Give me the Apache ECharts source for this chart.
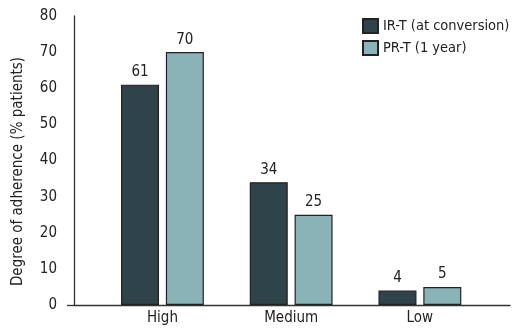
<!DOCTYPE html>
<html>
<head>
<meta charset="utf-8">
<style>
  html, body { margin: 0; padding: 0; background: #fff; }
  #chart { width: 512px; height: 328px; }
</style>
<script src="https://cdn.jsdelivr.net/npm/echarts@6/dist/echarts.min.js"></script>
</head>
<body>
<div id="chart"></div>
<script>
// Adherence levels and percentages of patients
const categories = ['High', 'Medium', 'Low'];
const seriesNames = ['IR-T (at conversion)', 'PR-T (1 year)'];
const irtValues = [61, 34, 4];
const prtValues = [70, 25, 5];
const yTicks = [0, 10, 20, 30, 40, 50, 60, 70, 80];

const FONT = '"Liberation Sans Narrow", "DejaVu Sans Condensed", "Roboto", sans-serif';
const INK = '#222';

// category index -> [x, y] pairs on a numeric x axis
const toPairs = vals => vals.map((v, i) => [i, v]);

const chart = echarts.init(document.getElementById('chart'), null, { renderer: 'canvas' });

const labelStyle = {
  show: true,
  position: 'top',
  distance: 5,
  color: INK,
  fontFamily: FONT,
  fontSize: 15,
  formatter: p => p.value[1]
};

chart.setOption({
  animation: false,
  textStyle: { fontFamily: FONT },
  grid: { left: 74, right: 2, top: 16, bottom: 23, containLabel: false },
  legend: {
    orient: 'vertical',
    left: 362,
    top: 18,
    padding: 0,
    width: 150,
    itemWidth: 15,
    itemHeight: 14,
    itemGap: 6,
    icon: 'rect',
    textStyle: { fontFamily: FONT, fontSize: 14.5, color: INK },
    data: seriesNames
  },
  xAxis: {
    type: 'value',
    min: -0.687,
    max: 2.7,
    axisLine: { show: true, onZero: false, lineStyle: { color: '#333', width: 1.3 } },
    axisTick: { show: false },
    splitLine: { show: false },
    axisLabel: {
      customValues: categories.map((c, i) => i),
      formatter: v => categories[Math.round(v)],
      color: INK,
      fontFamily: FONT,
      fontSize: 15,
      margin: 6
    }
  },
  yAxis: {
    type: 'value',
    min: 0,
    max: 80,
    interval: 10,
    name: 'Degree of adherence (% patients)',
    nameLocation: 'middle',
    nameGap: 48,
    nameTextStyle: { fontFamily: FONT, fontSize: 15, color: INK, padding: [0, 0, 0, -22] },
    axisLine: { show: true, onZero: false, lineStyle: { color: '#333', width: 1.3 } },
    axisTick: { show: true, customValues: [0], length: 7, lineStyle: { color: '#333', width: 1.3 } },
    splitLine: { show: false },
    axisLabel: {
      customValues: yTicks,
      color: INK,
      fontFamily: FONT,
      fontSize: 15,
      margin: 17
    }
  },
  series: [
    {
      name: seriesNames[0],
      type: 'bar',
      data: toPairs(irtValues),
      barWidth: 38,
      barGap: '18%',
      itemStyle: { color: '#2f444a', borderColor: '#222', borderWidth: 1.2 },
      label: labelStyle
    },
    {
      name: seriesNames[1],
      type: 'bar',
      data: toPairs(prtValues),
      barWidth: 38,
      barGap: '18%',
      itemStyle: { color: '#8ab3b8', borderColor: '#222', borderWidth: 1.2 },
      label: labelStyle
    }
  ]
});
</script>
</body>
</html>
